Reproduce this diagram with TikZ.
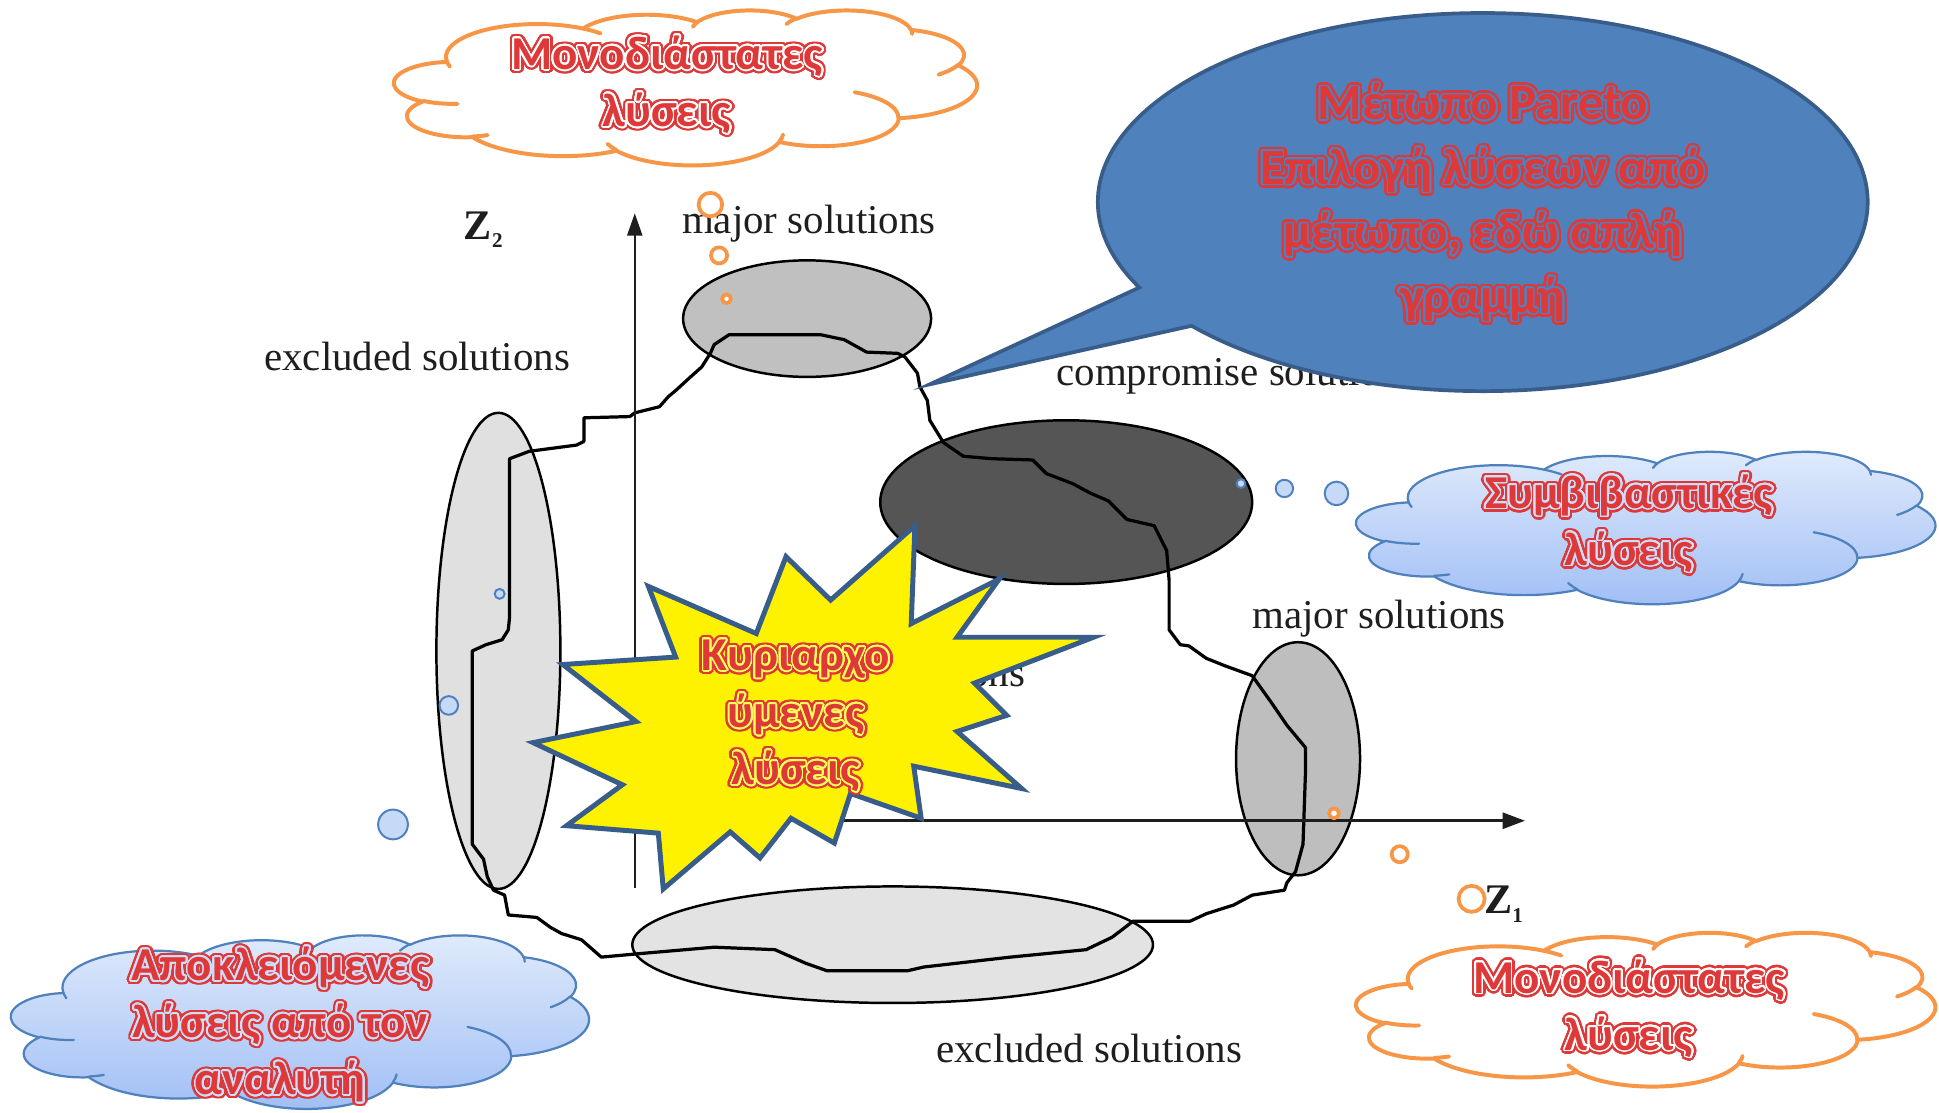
\documentclass[tikz,border=0pt]{standalone}
\usepackage{fontspec}
\setmainfont{Liberation Serif}
\newfontfamily\wafont{Carlito}
\usepackage[copies]{contour}
\contournumber{32}
\usetikzlibrary{shapes.geometric,shapes.callouts,arrows.meta}
\definecolor{wred}{RGB}{222,56,56}
\definecolor{orng}{RGB}{247,150,70}
\definecolor{bstroke}{RGB}{79,129,189}
\definecolor{bfillt}{RGB}{224,235,252}
\definecolor{bfillb}{RGB}{160,190,245}
\definecolor{calfill}{RGB}{79,129,189}
\definecolor{calline}{RGB}{56,93,138}
\definecolor{pale}{RGB}{198,217,247}
\definecolor{ink}{RGB}{30,30,30}
\definecolor{ringy}{RGB}{255,255,90}
\definecolor{ringb}{RGB}{205,222,250}
\newcommand\wt[2][white]{\makebox[0pt][l]{\contourlength{3.4pt}\contour{wred}{#2}}{\contourlength{1.3pt}\contour{#1}{#2}}}
\newcommand\pptcloud[6]{%
  \pgfmathsetmacro\cldx{#3/4320}\pgfmathsetmacro\cldy{#4/4320}%
  \begin{scope}[shift={(#1,#2)}, x=\cldx pt, y=-\cldy pt]
    \path[#5] (390,1437) foreach \w/\h/\s/\d [evaluate=\s as \ts using {atan2(\w*sin(\s),\h*cos(\s))}, evaluate=\s as \te using {atan2(\w*sin(\s+\d),\h*cos(\s+\d))}, evaluate=\s as \dd using {mod(\te-\ts+720,360)}] in {675.3/919.0/-190.4875/123.7805, 533.3/726.7/-144.1024/89.9452, 436.5/594.5/-145.8079/99.7230, 485.7/659.5/-130.9861/117.2417, 533.3/727.3/-78.7089/109.0269, 677.5/922.0/-46.2673/130.2690, 578.5/786.7/0.6250/114.0333, 675.2/921.5/22.4516/115.1726, 772.0/1054.3/66.2426/75.7110, 436.0/591.8/-274.9421/146.7356, 434.5/594.5/-246.8285/152.5189} {arc[start angle=\ts, delta angle=\dd, x radius=\w, y radius=\h]} -- cycle;
    \path[#6] foreach \x/\y/\w/\h/\s/\d [evaluate=\s as \ts using {atan2(\w*sin(\s),\h*cos(\s))}, evaluate=\s as \te using {atan2(\w*sin(\s+\d),\h*cos(\s+\d))}, evaluate=\s as \dd using {mod(\te-\ts+720,360)}] in {469.3/2617.7/434.5/594.5/86.7420/26.4295, 692.8/3489.9/436.0/591.8/73.6105/11.4475, 1647.8/3909.0/675.2/921.5/137.6242/14.0811, 2882.7/3475.1/675.2/921.5/6.4533/15.9984, 3412.9/2295.4/578.5/786.7/-70.2924/70.9174, 4179.8/1535.4/533.3/727.3/30.3180/27.7515, 3832.4/542.6/485.7/659.5/-13.7443/14.8589, 2907.8/395.2/485.7/659.5/-149.1815/18.1954, 2214.1/472.0/436.5/594.5/-163.4943/17.6864, 1400.0/519.2/675.3/919.0/-66.7070/12.3194, 412.7/1578.9/675.3/919.0/157.6544/11.8582} {(\x,\y) arc[start angle=\ts, delta angle=\dd, x radius=\w, y radius=\h]};
  \end{scope}}
\tikzset{
  lab/.style={font=\fontsize{33}{38}\selectfont, inner sep=0pt, text=ink},
  zlab/.style={font=\bfseries\fontsize{34}{38}\selectfont, inner sep=0pt, text=ink},
  wa/.style={font=\wafont\bfseries\fontsize{38}{46}\selectfont, text=wred, align=center, inner sep=0pt},
  orcl/.style={draw=orng, line width=3.2pt, fill=white, line join=round},
  orin/.style={draw=orng, line width=3.2pt, line cap=round},
  blcl/.style={draw=bstroke, line width=1.8pt, top color=bfillt, bottom color=bfillb, line join=round},
  blin/.style={draw=bstroke, line width=1.8pt, line cap=round},
  gell/.style={ellipse, draw=black, line width=2pt, inner sep=0pt},
  front/.style={draw=black, line width=2.6pt, line join=round},
  axisline/.style={draw=ink, line width=2pt},
  obub/.style={circle, draw=orng, line width=3pt, fill=white, inner sep=0pt},
  bbub/.style={circle, draw=bstroke, line width=1.6pt, fill=pale, inner sep=0pt},
  starshape/.style={fill=yellow, draw=calline, line width=4pt, line join=miter},
}
\begin{document}
\begin{tikzpicture}[x=1pt,y=-1pt]
\useasboundingbox (0,0) rectangle (1564,897);
\fill[white] (0,0) rectangle (1564,897);

% ellipses
\node[gell, fill={rgb,255:red,192;green,192;blue,192}, minimum width=200pt, minimum height=94pt] (etop) at (651,257) {};
\node[gell, fill={rgb,255:red,224;green,224;blue,224}, minimum width=100pt, minimum height=384pt] (eleft) at (402,525) {};
\node[gell, fill={rgb,255:red,85;green,85;blue,85}, minimum width=300pt, minimum height=132pt] (edark) at (860,405) {};
\node[gell, fill={rgb,255:red,190;green,190;blue,190}, minimum width=100pt, minimum height=188pt] (eright) at (1047,612) {};
\node[gell, fill={rgb,255:red,227;green,227;blue,227}, minimum width=420pt, minimum height=94pt] (ebot) at (720,762) {};

% pareto front
\draw[front] (576,278) -- (588,270) -- (662,270) -- (681,274) -- (699,284) -- (724,285) -- (730,288) -- (740,301) -- (742,312) -- (748,323) -- (750,339) -- (761,357) -- (777,368) -- (800,370) -- (833,371) -- (844,382) -- (865,390) -- (880,398) -- (894,404) -- (909,419) -- (931,424) -- (941,444) -- (943,468) -- (943,508) -- (952,520) -- (959,521) -- (973,531) -- (988,537) -- (1010,545) -- (1025,566) -- (1038,585) -- (1053,603) -- (1053,623) -- (1051,681) -- (1045,703) -- (1038,712) -- (1036,718) -- (1010,722) -- (995,730) -- (973,737) -- (960,743) -- (914,743) -- (897,756) -- (876,766) -- (815,772) -- (745,780) -- (732,783) -- (667,783) -- (650,777) -- (625,766) -- (576,764) -- (518,769) -- (485,772) -- (469,758) -- (453,753) -- (444,748) -- (433,740) -- (410,738) -- (407,722) -- (398,718) -- (393,707) -- (390,693) -- (381,681) -- (381,525) -- (392,520) -- (405,516) -- (410,508) -- (411,498) -- (411,370) -- (427,364) -- (465,359) -- (471,356) -- (471,337) -- (508,336) -- (512,333) -- (532,328) -- (539,320) -- (545,315) -- (557,304) -- (566,296) -- (573,285) -- cycle;

% axes
\coordinate (yb) at (512,716);
\coordinate (yt) at (512,172);
\coordinate (xl) at (470,662);
\coordinate (xr) at (1230,662);
\draw[axisline, -{Triangle[length=18pt,width=12pt]}] (yb) -- (yt);
\draw[axisline, -{Triangle[length=18pt,width=13pt]}] (xl) -- (xr);

% labels
\node[zlab, anchor=base west] (z2) at (374,193) {Z\raisebox{-7pt}{\fontsize{17}{17}\selectfont 2}};
\node[zlab, anchor=base west] (z1) at (1197,737) {Z\raisebox{-7pt}{\fontsize{17}{17}\selectfont 1}};
\node[lab, anchor=base west] (tmaj) at (550,188) {major solutions};
\node[lab, anchor=base west] (texl) at (213,299) {excluded solutions};
\node[lab, anchor=base west] (tcomp) at (852,311) {compromise solutions};
\node[lab, anchor=base west] (trmaj) at (1010,507) {major solutions};
\node[lab, anchor=base west] (tbex) at (755,857) {excluded solutions};
\node[lab, anchor=base east] (tdom) at (827,554) {dominated solutions};

% star
\draw[starshape] (523,473) -- (545,530) -- (454,536) -- (513,582) -- (430,599) -- (502,633) -- (457,666) -- (531,672) -- (535,717) -- (589,671) -- (613,692) -- (638,660) -- (673,680) -- (686,640) -- (743,660) -- (737,618) -- (824,636) -- (772,590) -- (812,577) -- (786,551) -- (882,514) -- (772,514) -- (806,467) -- (735,503) -- (738,424) -- (670,484) -- (634,449) -- (610,511) -- cycle;
\node[wa] (tstar) at (642,579) {\wt[ringy]{Κυριαρχο}\\\wt[ringy]{ύμενες}\\\wt[ringy]{λύσεις}};

% callout
\node[ellipse callout, draw=calline, fill=calfill, line width=3pt, minimum width=621pt, minimum height=305pt, callout absolute pointer={(750,310)}, callout pointer arc=14, inner sep=0pt] (pareto) at (1196,163) {};
\node[wa, font=\wafont\bfseries\fontsize{41}{52}\selectfont] (tpareto) at (1196,165) {\wt[calfill]{Μέτωπο Pareto}\\\wt[calfill]{Επιλογή λύσεων από}\\\wt[calfill]{μέτωπο, εδώ απλή}\\\wt[calfill]{γραμμή}};

% clouds
\pptcloud{318}{8}{470}{125}{orcl}{orin}
\node[wa] (tctop) at (538,70) {\wt{Μονοδιάστατες}\\\wt{λύσεις}};
\pptcloud{1094}{364}{467}{123}{blcl}{blin}
\node[wa] (tcsym) at (1314,424) {\wt[ringb]{Συμβιβαστικές}\\\wt[ringb]{λύσεις}};
\pptcloud{1094}{752}{467}{124}{orcl}{orin}
\node[wa] (tcbr) at (1314,815) {\wt{Μονοδιάστατες}\\\wt{λύσεις}};
\pptcloud{9}{754}{466}{140}{blcl}{blin}
\node[wa] (tcbl) at (226,828) {\wt[ringb]{Αποκλειόμενες}\\\wt[ringb]{λύσεις από τον}\\\wt[ringb]{αναλυτή}};

% thought bubbles
\node[obub, minimum size=19pt] (o1) at (573,165) {};
\node[obub, minimum size=13pt] (o2) at (580,206) {};
\node[obub, minimum size=7pt] (o3) at (586,241) {};
\node[obub, minimum size=8pt] (o4) at (1076,656) {};
\node[obub, minimum size=13pt] (o5) at (1129,689) {};
\node[obub, minimum size=21pt] (o6) at (1187,725) {};
\node[bbub, minimum size=7pt] (b1) at (1001,390) {};
\node[bbub, minimum size=14pt] (b2) at (1036,394) {};
\node[bbub, minimum size=19pt] (b3) at (1078,398) {};
\node[bbub, minimum size=8pt] (b4) at (403,479) {};
\node[bbub, minimum size=15pt] (b5) at (362,569) {};
\node[bbub, minimum size=24pt] (b6) at (317,665) {};
\end{tikzpicture}
\end{document}
